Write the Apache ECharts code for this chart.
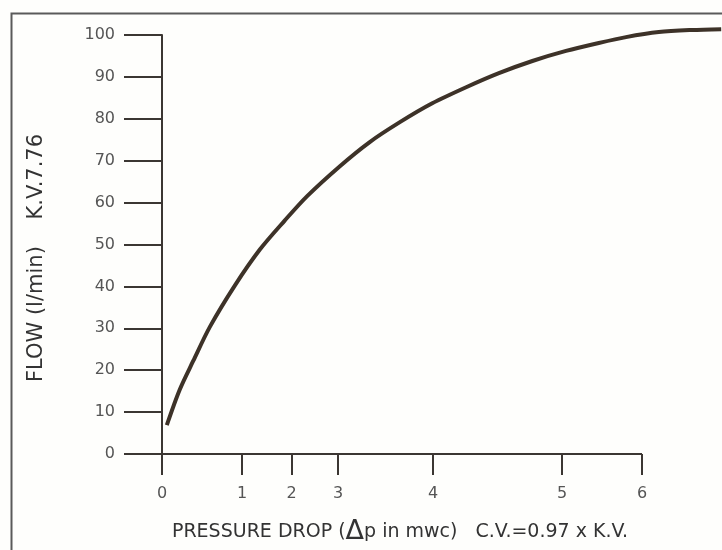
<!DOCTYPE html>
<html>
<head>
<meta charset="utf-8">
<script src="https://cdn.jsdelivr.net/npm/echarts@6/dist/echarts.min.js"></script>
<style>
  html, body { margin: 0; padding: 0; background: #fefefc; }
  #chart { width: 722px; height: 550px; }
</style>
</head>
<body>
<div id="chart"></div>
<script>
// printed pressure scale: label values and where the drawing puts them (axis units)
var pressureTicks = [0, 1, 2, 3, 4, 5, 6];
var tickPlacement = [0, 1.0, 1.62, 2.2, 3.39, 5.0, 6.0];

// curve: pressure drop (mwc) vs flow (l/min)
var pressure = [0.06, 0.22, 0.39, 0.6, 0.91, 1.36, 1.86, 2.33, 3.02, 3.33, 3.65, 3.99, 4.26, 4.51, 4.77, 5.05, 5.46, 5.8, 6.21, 6.62, 6.99];
var flow = [6.9, 15.3, 22.2, 30.4, 40.2, 48.8, 55.7, 61.5, 68.7, 74.4, 79.2, 83.7, 87.6, 90.9, 93.8, 96.2, 98.1, 99.5, 100.7, 101.2, 101.4];

var yTicks = [0, 10, 20, 30, 40, 50, 60, 70, 80, 90, 100];

// pressure -> position on the (uneven) printed scale
function place(p) {
	var n = pressureTicks.length;
	for (var i = 0; i < n - 1; i++) {
		if (p <= pressureTicks[i + 1] || i == n - 2) {
			var t = (p - pressureTicks[i]) / (pressureTicks[i + 1] - pressureTicks[i]);
			return tickPlacement[i] + t * (tickPlacement[i + 1] - tickPlacement[i]);
		}
	}
}

var curve = [];
for (var i = 0; i < pressure.length; i++) {
	curve.push([place(pressure[i]), flow[i]]);
}

var axisColor = '#3b3632';
var textColor = '#555555';
var titleColor = '#333333';
var xEnd = place(pressureTicks[pressureTicks.length - 1]);

var option = {
	backgroundColor: '#fefefc',
	animation: false,
	grid: { left: 162, top: 35, width: 481 * 7 / 6, height: 419, containLabel: false },
	xAxis: {
		type: 'value',
		min: 0,
		max: 7,
		axisLine: { show: false },   // drawn as markLine below, it stops at 6
		axisTick: {
			show: true,
			length: 21,
			customValues: tickPlacement,
			lineStyle: { color: axisColor, width: 2 }
		},
		axisLabel: {
			show: true,
			customValues: tickPlacement,
			margin: 32,
			color: textColor,
			fontFamily: 'DejaVu Sans',
			fontSize: 16,
			formatter: function (v) {
				for (var k = 0; k < tickPlacement.length; k++) {
					if (Math.abs(tickPlacement[k] - v) < 1e-6) return String(pressureTicks[k]);
				}
				return '';
			}
		},
		splitLine: { show: false }
	},
	yAxis: {
		type: 'value',
		min: 0,
		max: 100,
		interval: 10,
		axisLine: { show: true, lineStyle: { color: axisColor, width: 2 } },
		axisTick: { show: true, length: 38, lineStyle: { color: axisColor, width: 2 } },
		axisLabel: {
			margin: 47,
			color: textColor,
			fontFamily: 'DejaVu Sans',
			fontSize: 16,
			customValues: yTicks
		},
		splitLine: { show: false }
	},
	graphic: [
		{
			type: 'rect',
			left: 9,
			top: 11,
			shape: { width: 760, height: 600 },
			style: { fill: 'none', stroke: '#5a5a5a', lineWidth: 2 },
			silent: true
		},
		{
			type: 'text',
			x: 37,
			y: 258,
			rotation: Math.PI / 2,
			style: {
				text: 'FLOW (l/min)    K.V.7.76',
				fill: titleColor,
				font: '21px "DejaVu Sans"',
				align: 'center',
				verticalAlign: 'middle'
			}
		},
		{
			type: 'text',
			x: 400,
			y: 532,
			style: {
				text: 'PRESSURE DROP ({d|\u0394}p in mwc)   C.V.=0.97 x K.V.',
				rich: { d: { fontSize: 27, fill: titleColor, fontFamily: 'DejaVu Sans' } },
				fill: titleColor,
				font: '19px "DejaVu Sans"',
				align: 'center',
				verticalAlign: 'middle'
			}
		}
	],
	series: [{
		type: 'line',
		data: curve,
		smooth: 0.3,
		symbol: 'none',
		clip: false,
		lineStyle: { color: '#3d3228', width: 4 },
		markLine: {
			silent: true,
			symbol: ['none', 'none'],
			label: { show: false },
			lineStyle: { color: axisColor, width: 2, type: 'solid' },
			data: [[{ coord: [0, 0] }, { coord: [xEnd, 0] }]]
		}
	}]
};

var myChart = echarts.init(document.getElementById('chart'));
myChart.setOption(option);
</script>
</body>
</html>
